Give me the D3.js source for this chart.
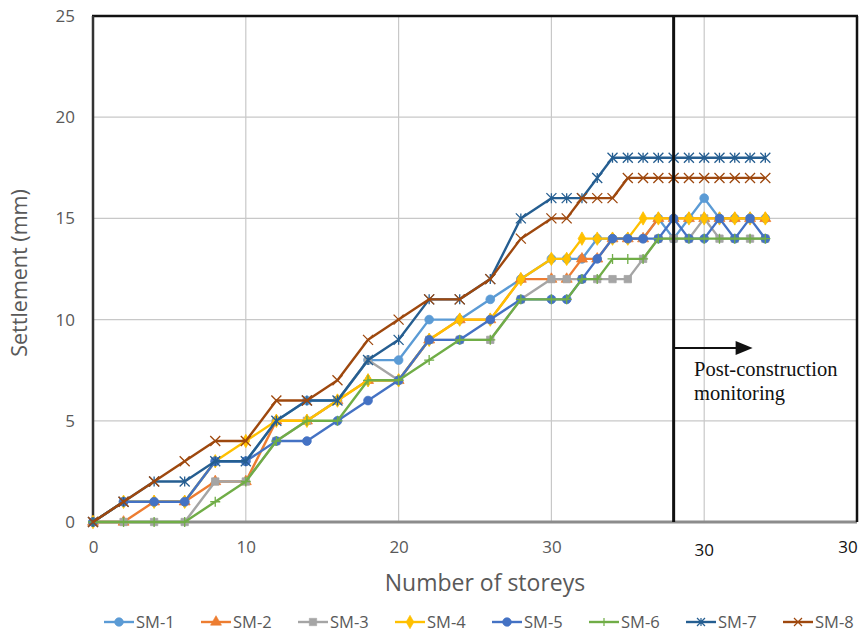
<!DOCTYPE html>
<html>
<head>
<meta charset="utf-8">
<script src="https://cdn.jsdelivr.net/npm/d3@7"></script>
<style>
  body { margin: 0; background: #fff; }
  svg { display: block; font-family: "Open Sans", "Noto Sans", sans-serif; }
</style>
</head>
<body>
<div id="chart"></div>
<script>
// storeys / monitoring steps
const storeys = [0, 2, 4, 6, 8, 10, 12, 14, 16, 18, 20, 22, 24, 26, 28, 30, 31, 32, 33, 34, 35, 36, 37, 38, 39, 40, 41, 42, 43, 44];

const sm1 = [0, 1, 1, 1, 3, 3, 5, 6, 6, 8, 8, 10, 10, 11, 12, 13, 13, 13, 14, 14, 14, 14, 15, 14, 15, 16, 15, 15, 15, 15];
const sm2 = [0, 0, 1, 1, 2, 2, 5, 5, 6, 7, 7, 9, 10, 10, 12, 12, 12, 13, 13, 14, 14, 14, 15, 15, 15, 15, 15, 15, 15, 15];
const sm3 = [0, 0, 0, 0, 2, 2, 4, 5, 6, 8, 7, 9, 9, 9, 11, 12, 12, 12, 12, 12, 12, 13, 14, 14, 14, 15, 14, 14, 14, 14];
const sm4 = [0, 1, 1, 1, 3, 4, 5, 5, 6, 7, 7, 9, 10, 10, 12, 13, 13, 14, 14, 14, 14, 15, 15, 15, 15, 15, 15, 15, 15, 15];
const sm5 = [0, 1, 1, 1, 3, 3, 4, 4, 5, 6, 7, 9, 9, 10, 11, 11, 11, 12, 13, 14, 14, 14, 14, 15, 14, 14, 15, 14, 15, 14];
const sm6 = [0, 0, 0, 0, 1, 2, 4, 5, 5, 7, 7, 8, 9, 9, 11, 11, 11, 12, 12, 13, 13, 13, 14, 14, 14, 14, 14, 14, 14, 14];
const sm7 = [0, 1, 2, 2, 3, 3, 5, 6, 6, 8, 9, 11, 11, 12, 15, 16, 16, 16, 17, 18, 18, 18, 18, 18, 18, 18, 18, 18, 18, 18];
const sm8 = [0, 1, 2, 3, 4, 4, 6, 6, 7, 9, 10, 11, 11, 12, 14, 15, 15, 16, 16, 16, 17, 17, 17, 17, 17, 17, 17, 17, 17, 17];

const seriesNames = ["SM-1", "SM-2", "SM-3", "SM-4", "SM-5", "SM-6", "SM-7", "SM-8"];
const seriesValues = [sm1, sm2, sm3, sm4, sm5, sm6, sm7, sm8];
const colors = ["#5B9BD5", "#ED7D31", "#A5A5A5", "#FFC000", "#4472C4", "#70AD47", "#255E91", "#9E480E"];
const markers = ["circle", "triangle", "square", "diamond", "circle", "plus", "star", "x"];

const yTicks = [0, 5, 10, 15, 20, 25];
const xTicks = [0, 10, 20, 30];
const xExtraLabels = ["30", "30"];   // labels sitting at 40 and 50 in the figure
const endOfConstruction = 38;

const width = 865, height = 635;
const margin = { top: 16, right: 8, bottom: 113, left: 93 };

const svg = d3.select("#chart").append("svg")
  .attr("width", width)
  .attr("height", height);

const x = d3.scaleLinear().domain([0, 50]).range([margin.left, width - margin.right]);
const y = d3.scaleLinear().domain([0, 25]).range([height - margin.bottom, margin.top]);

// gridlines
svg.append("g")
  .selectAll("line.h")
  .data(yTicks.slice(1, -1))
  .join("line")
  .attr("x1", x(0)).attr("x2", x(50))
  .attr("y1", d => y(d)).attr("y2", d => y(d))
  .attr("stroke", "#c8c8c8").attr("stroke-width", 1.2);

svg.append("g")
  .selectAll("line.v")
  .data([10, 20, 30, 40])
  .join("line")
  .attr("x1", d => x(d)).attr("x2", d => x(d))
  .attr("y1", y(0)).attr("y2", y(25))
  .attr("stroke", "#c8c8c8").attr("stroke-width", 1.2);

// frame
svg.append("line").attr("x1", x(0)).attr("x2", x(50)).attr("y1", y(0)).attr("y2", y(0))
  .attr("stroke", "#8c8c8c").attr("stroke-width", 3);
svg.append("line").attr("x1", x(0) - 1).attr("x2", x(50) + 1).attr("y1", y(25)).attr("y2", y(25))
  .attr("stroke", "#111").attr("stroke-width", 2.5);
svg.append("line").attr("x1", x(0)).attr("x2", x(0)).attr("y1", y(25)).attr("y2", y(0))
  .attr("stroke", "#333").attr("stroke-width", 2.5);
svg.append("line").attr("x1", x(50)).attr("x2", x(50)).attr("y1", y(25)).attr("y2", y(0))
  .attr("stroke", "#111").attr("stroke-width", 2.5);

// axes (labels only)
const yAxis = svg.append("g")
  .attr("transform", `translate(${x(0)},0)`)
  .call(d3.axisLeft(y).tickValues(yTicks).tickSize(0).tickPadding(18));
yAxis.select(".domain").remove();
yAxis.selectAll("text").attr("fill", "#595959").style("font-size", "17px").attr("font-family", "Open Sans");

const xAxis = svg.append("g")
  .attr("transform", `translate(0,${y(0)})`)
  .call(d3.axisBottom(x).tickValues(xTicks).tickSize(0).tickPadding(19));
xAxis.select(".domain").remove();
xAxis.selectAll("text").attr("fill", "#595959").style("font-size", "17px").attr("font-family", "Open Sans");

svg.append("text").attr("x", x(40)).attr("y", y(0) + 34)
  .attr("text-anchor", "middle").attr("fill", "#111").style("font-size", "17px")
  .text(xExtraLabels[0]);
svg.append("text").attr("x", x(50) - 9).attr("y", y(0) + 31)
  .attr("text-anchor", "middle").attr("fill", "#111").style("font-size", "17px")
  .text(xExtraLabels[1]);

// axis titles
svg.append("text")
  .attr("x", 485).attr("y", 591)
  .attr("text-anchor", "middle").attr("fill", "#595959").style("font-size", "23px")
  .text("Number of storeys");

svg.append("text")
  .attr("transform", `translate(27,273) rotate(-90)`)
  .attr("text-anchor", "middle").attr("fill", "#595959").style("font-size", "21.5px")
  .text("Settlement (mm)");

// marker shapes
function markerPath(type, s) {
  switch (type) {
    case "circle": return d3.symbol(d3.symbolCircle, 60)();
    case "triangle": return d3.symbol(d3.symbolTriangle, 52)();
    case "square": return d3.symbol(d3.symbolSquare, 54)();
    case "diamond": return d3.symbol(d3.symbolDiamond, 52)();
    case "plus": return `M${-s},0H${s}M0,${-s}V${s}`;
    case "x": return `M${-s},${-s}L${s},${s}M${-s},${s}L${s},${-s}`;
    case "star": return `M${-s},${-s}L${s},${s}M${-s},${s}L${s},${-s}M0,${-s}V${s}`;
  }
}
const strokedMarker = t => t === "plus" || t === "x" || t === "star";

const line = d3.line().x(d => x(d[0])).y(d => y(d[1]));

const plot = svg.append("g");
seriesValues.forEach((vals, i) => {
  const pts = storeys.map((s, j) => [s, vals[j]]);
  const g = plot.append("g");
  g.append("path")
    .datum(pts)
    .attr("d", line)
    .attr("fill", "none")
    .attr("stroke", colors[i])
    .attr("stroke-width", 2.4)
    .attr("stroke-linejoin", "round");
  g.selectAll("path.m")
    .data(pts)
    .join("path")
    .attr("class", "m")
    .attr("transform", d => `translate(${x(d[0])},${y(d[1])})`)
    .attr("d", markerPath(markers[i], 5))
    .attr("fill", strokedMarker(markers[i]) ? "none" : colors[i])
    .attr("stroke", colors[i])
    .attr("stroke-width", strokedMarker(markers[i]) ? 1.3 : 0.8);
});

// end-of-construction divider and annotation
svg.append("line")
  .attr("x1", x(endOfConstruction)).attr("x2", x(endOfConstruction))
  .attr("y1", y(25)).attr("y2", y(0))
  .attr("stroke", "#111").attr("stroke-width", 3);

const arrowY = 348;
svg.append("line")
  .attr("x1", x(endOfConstruction)).attr("x2", x(endOfConstruction) + 64)
  .attr("y1", arrowY).attr("y2", arrowY)
  .attr("stroke", "#111").attr("stroke-width", 2);
svg.append("path")
  .attr("d", `M${x(endOfConstruction) + 62},${arrowY - 7}L${x(endOfConstruction) + 79},${arrowY}L${x(endOfConstruction) + 62},${arrowY + 7}Z`)
  .attr("fill", "#111");

const note = svg.append("text")
  .attr("font-family", "Liberation Serif, Times New Roman, serif")
  .style("font-size", "20.5px").attr("fill", "#111");
note.append("tspan").attr("x", 694).attr("y", 376).text("Post-construction");
note.append("tspan").attr("x", 694).attr("y", 400).text("monitoring");

// legend
const legend = svg.append("g").attr("transform", "translate(104,622)");
seriesNames.forEach((name, i) => {
  const g = legend.append("g").attr("transform", `translate(${i * 97},0)`);
  g.append("line").attr("x1", 0).attr("x2", 30).attr("y1", 0).attr("y2", 0)
    .attr("stroke", colors[i]).attr("stroke-width", 2.4);
  g.append("path").attr("transform", "translate(15,0)")
    .attr("d", markerPath(markers[i], 4))
    .attr("fill", strokedMarker(markers[i]) ? "none" : colors[i])
    .attr("stroke", colors[i])
    .attr("stroke-width", strokedMarker(markers[i]) ? 1.2 : 0.6);
  g.append("text").attr("x", 32).attr("y", 6)
    .attr("fill", "#595959").style("font-size", "16.5px")
    .text(name);
});
</script>
</body>
</html>
